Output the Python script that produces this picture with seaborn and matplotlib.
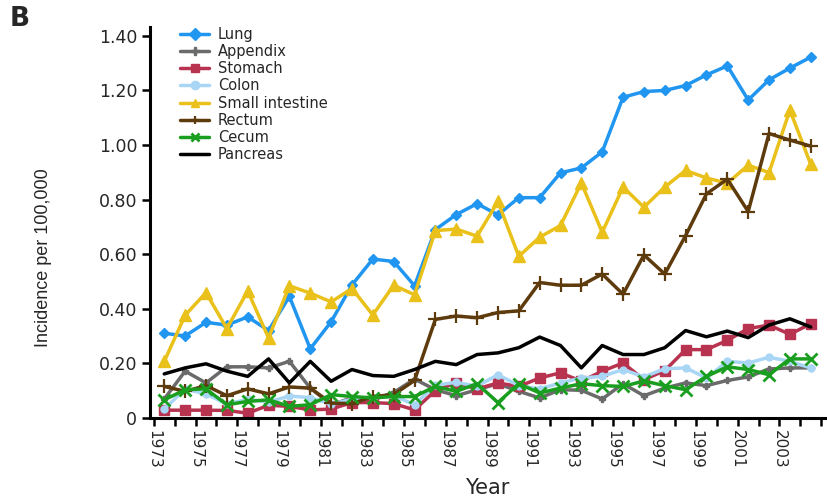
import numpy as np
import pandas as pd
import matplotlib
matplotlib.use("Agg")
import matplotlib.pyplot as plt
import seaborn as sns

# Incidence per 100,000 by year and tumour site
years = list(range(1973, 2005))

lung = [0.31, 0.30, 0.35, 0.34, 0.37, 0.32, 0.445, 0.253, 0.352, 0.487, 0.582, 0.573,
        0.484, 0.690, 0.745, 0.785, 0.744, 0.807, 0.807, 0.898, 0.916, 0.975, 1.175,
        1.196, 1.200, 1.218, 1.257, 1.290, 1.165, 1.239, 1.282, 1.322]
appendix = [0.069, 0.171, 0.128, 0.187, 0.187, 0.183, 0.207, 0.109, 0.048, 0.073, 0.066,
            0.093, 0.142, 0.103, 0.081, 0.103, 0.125, 0.097, 0.073, 0.103, 0.101, 0.069,
            0.125, 0.081, 0.109, 0.128, 0.118, 0.137, 0.150, 0.179, 0.183, 0.183]
stomach = [0.028, 0.028, 0.028, 0.027, 0.017, 0.046, 0.042, 0.029, 0.032, 0.056, 0.056,
           0.052, 0.029, 0.100, 0.128, 0.106, 0.128, 0.115, 0.146, 0.165, 0.134, 0.171,
           0.201, 0.140, 0.173, 0.250, 0.250, 0.284, 0.327, 0.340, 0.306, 0.345]
colon = [0.033, 0.105, 0.088, 0.050, 0.068, 0.058, 0.080, 0.074, 0.050, 0.068, 0.073,
         0.081, 0.048, 0.120, 0.130, 0.116, 0.158, 0.118, 0.106, 0.128, 0.146, 0.152,
         0.177, 0.150, 0.180, 0.183, 0.146, 0.207, 0.201, 0.222, 0.207, 0.183]
small_intestine = [0.207, 0.376, 0.459, 0.327, 0.465, 0.293, 0.484, 0.457, 0.425, 0.474,
                   0.377, 0.486, 0.451, 0.686, 0.692, 0.666, 0.793, 0.592, 0.662, 0.705,
                   0.861, 0.680, 0.846, 0.772, 0.846, 0.907, 0.879, 0.860, 0.926, 0.899,
                   1.128, 0.929]
rectum = [0.115, 0.097, 0.118, 0.081, 0.106, 0.088, 0.113, 0.109, 0.054, 0.052, 0.078,
          0.085, 0.137, 0.361, 0.373, 0.367, 0.386, 0.392, 0.496, 0.486, 0.486, 0.527,
          0.453, 0.597, 0.527, 0.668, 0.821, 0.875, 0.756, 1.042, 1.018, 0.996]
cecum = [0.066, 0.103, 0.106, 0.048, 0.060, 0.066, 0.042, 0.048, 0.085, 0.078, 0.073,
         0.078, 0.078, 0.115, 0.097, 0.125, 0.056, 0.125, 0.091, 0.109, 0.125, 0.118,
         0.115, 0.135, 0.118, 0.103, 0.152, 0.187, 0.177, 0.158, 0.216, 0.216]
pancreas = [0.161, 0.183, 0.198, 0.171, 0.152, 0.216, 0.128, 0.207, 0.134, 0.177, 0.155,
            0.152, 0.177, 0.207, 0.195, 0.232, 0.238, 0.257, 0.296, 0.265, 0.183, 0.265,
            0.232, 0.232, 0.257, 0.320, 0.297, 0.318, 0.294, 0.340, 0.363, 0.333]

y_ticks = [0, 0.2, 0.4, 0.6, 0.8, 1.0, 1.2, 1.4]
y_tick_labels = ["0", "0.20", "0.40", "0.60", "0.80", "1.00", "1.20", "1.40"]
x_tick_years = list(range(1973, 2006))

series = [
    ("Lung", lung, "#2196f0", "D", 5.5, 1.0),
    ("Appendix", appendix, "#6b6b6b", "P", 5, 1.0),
    ("Stomach", stomach, "#b8334f", "s", 7.5, 1.0),
    ("Colon", colon, "#a9d6f5", "o", 5, 1.0),
    ("Small intestine", small_intestine, "#e9c11a", "^", 8.5, 1.0),
    ("Rectum", rectum, "#5e3b0c", "+", 10, 1.6),
    ("Cecum", cecum, "#1a9e1f", "x", 8, 2.0),
    ("Pancreas", pancreas, "#000000", None, 0, 1.0),
]

sns.set_theme(style="ticks")
plt.rcParams["font.family"] = ["DejaVu Sans"]

fig = plt.figure(figsize=(8.27, 4.98), dpi=100)
ax = fig.add_axes([0.181, 0.161, 0.817, 0.785])

for name, vals, color, marker, ms, mew in series:
    df = pd.DataFrame({"Year": years, "Incidence": vals})
    kw = dict(color=color, linewidth=2.5, label=name)
    if marker is not None:
        kw.update(marker=marker, markersize=ms, markeredgewidth=mew,
                  markeredgecolor=color, markerfacecolor=color)
    sns.lineplot(data=df, x="Year", y="Incidence", ax=ax, **kw)

ax.set_xlim(1972.3, 2004.7)
ax.set_ylim(0, 1.433)

# tick marks sit between the yearly categories, labels on every other boundary
ax.set_xticks([yr - 0.5 for yr in x_tick_years])
ax.set_xticklabels([str(yr) if (yr - 1973) % 2 == 0 and yr <= 2003 else ""
                    for yr in x_tick_years], rotation=-90, fontsize=11)
ax.set_yticks(y_ticks)
ax.set_yticklabels(y_tick_labels, fontsize=12.5)

ax.tick_params(axis="both", direction="out", length=6, width=1.8, color="black",
               pad=3)
for side in ("top", "right"):
    ax.spines[side].set_visible(False)
for side in ("left", "bottom"):
    ax.spines[side].set_linewidth(2.2)
    ax.spines[side].set_color("black")

ax.set_xlabel("Year", fontsize=15, labelpad=6)
ax.set_ylabel("Incidence per 100,000", fontsize=13,
              family=["Liberation Sans", "DejaVu Sans"])
ax.yaxis.set_label_coords(-0.145, 0.41)

leg = ax.legend(loc="upper left", bbox_to_anchor=(0.045, 1.0), frameon=False,
                fontsize=10.5, handlelength=2.0, handletextpad=0.6,
                labelspacing=0.15, borderpad=0, borderaxespad=0)
for h in leg.legend_handles:
    h.set_markersize(6)

fig.text(0.012, 0.988, "B", fontsize=19, fontweight="bold", va="top", ha="left")

fig.savefig("out.png", dpi=100)
